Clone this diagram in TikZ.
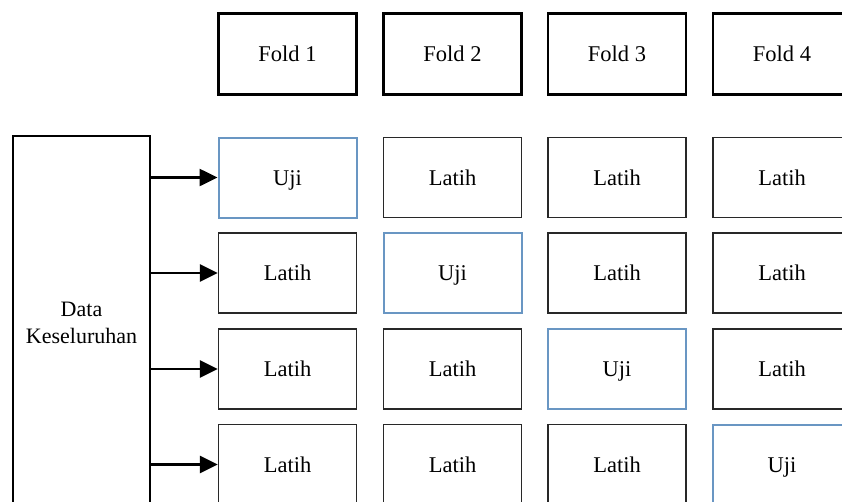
\documentclass[tikz,border=0pt]{standalone}
\usepackage{fontspec}
\setmainfont{Liberation Serif}
\usetikzlibrary{arrows.meta}
\definecolor{ujiblue}{RGB}{105,150,195}
\definecolor{boxgray}{RGB}{40,40,40}
\begin{document}
\begin{tikzpicture}[x=1pt,y=-1pt,
  txt/.style={font=\fontsize{22.5}{24}\selectfont,text height=15pt,text depth=0pt},
  foldbox/.style={txt,draw=black,line width=2.2pt,minimum width=138pt,minimum height=81pt,inner sep=0pt},
  latihbox/.style={txt,draw=boxgray,line width=1.4pt,minimum width=138pt,minimum height=80pt,inner sep=0pt},
  ujibox/.style={txt,draw=ujiblue,line width=2pt,minimum width=138pt,minimum height=80pt,inner sep=0pt},
  databox/.style={draw=black,line width=2pt,minimum width=137pt,minimum height=380pt,inner sep=0pt},
  conn/.style={line width=2.6pt,-{Triangle[length=18pt,width=17pt]}}]
\useasboundingbox (0,0) rectangle (842,501);
\fill[white] (0,0) rectangle (842,501);
% Fold headers
\node[foldbox] (f1) at (287.5,54) {Fold 1};
\node[foldbox] (f2) at (452.5,54) {Fold 2};
\node[foldbox] (f3) at (617,54) {Fold 3};
\node[foldbox] (f4) at (782,54) {Fold 4};
% grid
\node[ujibox]   (r1c1) at (287.5,177.5) {Uji};
\node[latihbox] (r1c2) at (452.5,177.5) {Latih};
\node[latihbox] (r1c3) at (617,177.5) {Latih};
\node[latihbox] (r1c4) at (782,177.5) {Latih};
\node[latihbox] (r2c1) at (287.5,273) {Latih};
\node[ujibox]   (r2c2) at (452.5,273) {Uji};
\node[latihbox] (r2c3) at (617,273) {Latih};
\node[latihbox] (r2c4) at (782,273) {Latih};
\node[latihbox] (r3c1) at (287.5,369) {Latih};
\node[latihbox] (r3c2) at (452.5,369) {Latih};
\node[ujibox]   (r3c3) at (617,369) {Uji};
\node[latihbox] (r3c4) at (782,369) {Latih};
\node[latihbox] (r4c1) at (287.5,464.5) {Latih};
\node[latihbox] (r4c2) at (452.5,464.5) {Latih};
\node[latihbox] (r4c3) at (617,464.5) {Latih};
\node[ujibox]   (r4c4) at (782,464.5) {Uji};
% data box
\node[databox] (data) at (81.5,326) {};
\node[font=\fontsize{22}{27}\selectfont,align=center] (datatext) at (81.5,323) {Data\\Keseluruhan};
% arrows
\draw[conn] (data.east |- r1c1.west) -- (r1c1.west);
\draw[conn] (data.east |- r2c1.west) -- (r2c1.west);
\draw[conn] (data.east |- r3c1.west) -- (r3c1.west);
\draw[conn] (data.east |- r4c1.west) -- (r4c1.west);
\end{tikzpicture}
\end{document}
